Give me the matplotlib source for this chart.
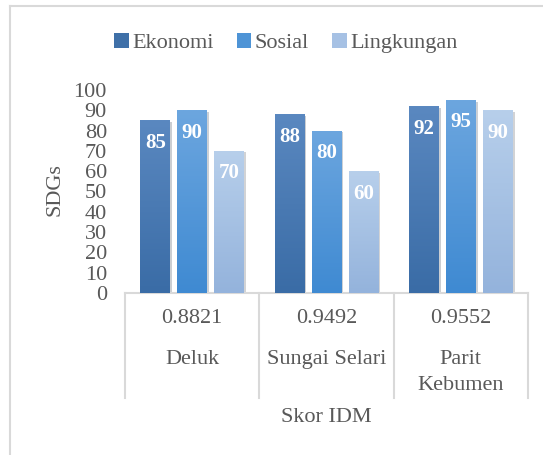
import numpy as np
import matplotlib
matplotlib.use('Agg')
import matplotlib.pyplot as plt
import matplotlib.patheffects as pe
from matplotlib.colors import LinearSegmentedColormap
from matplotlib.patches import Patch
from matplotlib.lines import Line2D
from matplotlib.transforms import blended_transform_factory

plt.rcParams['font.family'] = ['Liberation Serif', 'DejaVu Serif']

villages = ['Deluk', 'Sungai Selari', 'Parit\nKebumen']
idm_scores = ['0.8821', '0.9492', '0.9552']
series = ['Ekonomi', 'Sosial', 'Lingkungan']
ekonomi = [85, 88, 92]
sosial = [90, 80, 95]
lingkungan = [70, 60, 90]

# (top colour, bottom colour) for the gradient fill
grad = [('#5A88C0', '#3A6CA6'), ('#6CA6DF', '#3F8AD2'), ('#B7CFEB', '#94B3DC')]
legend_cols = ['#3F70A8', '#4E94D6', '#A6C1E4']
txt = '#595959'
line_col = '#D9D9D9'

fig = plt.figure(figsize=(5.43, 4.55), dpi=100)
ax = fig.add_axes([125/543, 1 - 293/455, 403/543, 203/455])

x = np.arange(len(villages))
width = 0.22
step = 0.275
for i, vals in enumerate([ekonomi, sosial, lingkungan]):
    top, bot = grad[i]
    cmap = LinearSegmentedColormap.from_list('g%d' % i, [bot, top])
    bars = ax.bar(x + (i - 1) * step, vals, width, color=legend_cols[i], zorder=2,
                  path_effects=[pe.SimplePatchShadow(offset=(1.5, -1), alpha=0.22, rho=0.3),
                                pe.Normal()])
    for b, v in zip(bars, vals):
        x0 = b.get_x()
        g = np.linspace(0, 1, 100).reshape(-1, 1)
        im = ax.imshow(g, cmap=cmap, origin='lower', aspect='auto',
                       extent=[x0, x0 + width, 0, v], zorder=3)
        im.set_clip_path(b)
        ax.text(x0 + width / 2, v - 11, str(v), ha='center', va='center',
                color='white', fontsize=15, fontweight='bold', zorder=4)

ax.set_xlim(-0.5, 2.5)
ax.set_ylim(0, 100)
ax.set_yticks(range(0, 101, 10))
ax.tick_params(axis='y', length=0, labelsize=16, labelcolor=txt, pad=13)
ax.set_xticks([])
for s in ['top', 'right', 'left']:
    ax.spines[s].set_visible(False)
ax.spines['bottom'].set_color(line_col)
ax.spines['bottom'].set_linewidth(1.5)

tr = blended_transform_factory(ax.transData, ax.transAxes)
for xs in [-0.5, 0.5, 1.5, 2.5]:
    ax.plot([xs, xs], [0, -0.517], transform=tr, color=line_col, lw=1.5, clip_on=False)
for xi, sc, vl in zip(x, idm_scores, villages):
    ax.text(xi, -0.128, sc, transform=tr, ha='center', va='center', fontsize=16, color=txt)
    ax.text(xi, -0.28, vl, transform=tr, ha='center', va='top', fontsize=16, color=txt,
            linespacing=1.5)

ax.text(0.5, -0.611, 'Skor IDM', transform=ax.transAxes, ha='center', va='center',
        fontsize=16, color=txt)
fig.text(55/543, 1 - 190/455, 'SDGs', rotation=90, ha='center', va='center',
         fontsize=16, color=txt)

handles = [Patch(facecolor=c, edgecolor='none') for c in legend_cols]
fig.legend(handles, series, loc='center', bbox_to_anchor=(286/543, 1 - 43/455), ncol=3,
           frameon=False, fontsize=16, labelcolor=txt, handlelength=0.65,
           handleheight=0.65, handletextpad=0.15, columnspacing=1.05)

# outer chart border (only left and top edges are visible)
fig.add_artist(Line2D([9.5/543, 9.5/543], [0, 1 - 6/455], color=line_col, lw=1.5))
fig.add_artist(Line2D([9.5/543, 1], [1 - 6/455, 1 - 6/455], color=line_col, lw=1.5))

fig.savefig('out.png', dpi=100)
